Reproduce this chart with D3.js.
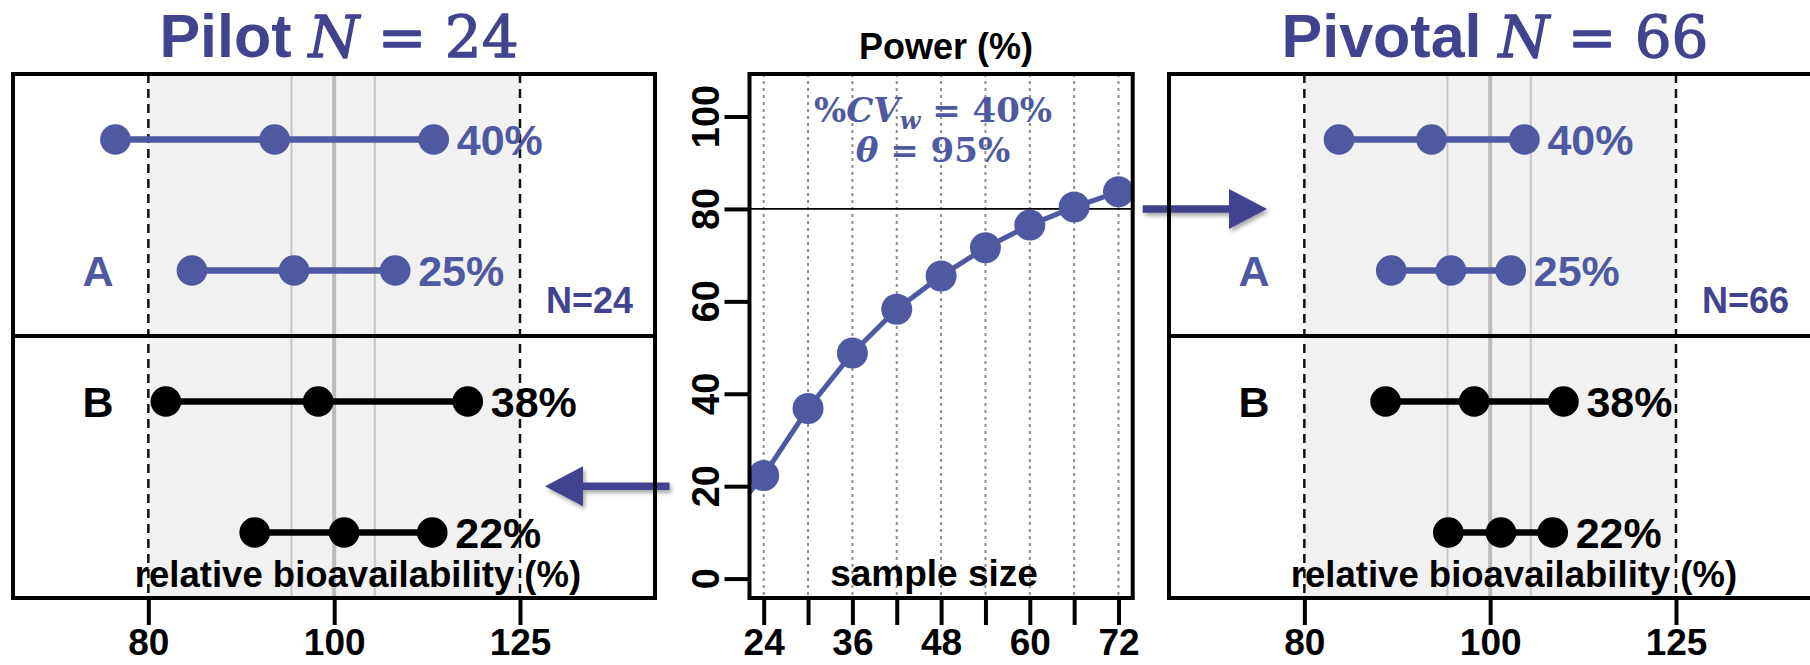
<!DOCTYPE html>
<html>
<head>
<meta charset="utf-8">
<script src="https://cdn.jsdelivr.net/npm/d3@7"></script>
<style>
  html, body { margin: 0; padding: 0; background: #fff; }
  svg { display: block; }
  text.piece { white-space: pre; }
</style>
</head>
<body>
<script>
// ---- data -------------------------------------------------------------
// rows of each forest panel, top to bottom
const formulation = ["A", "A", "B", "B"];
const cvLabels = ["40%", "25%", "38%", "22%"];

// pilot study (N = 24): lower CI, point estimate, upper CI of relative bioavailability (%)
const pilotLower = [76.9, 84.3, 81.7, 90.9];
const pilotPoint = [93.1, 95.3, 98.1, 101.2];
const pilotUpper = [112.7, 107.6, 117.4, 112.5];

// pivotal study (N = 66)
const pivotalLower = [83.4, 88.8, 88.2, 95.1];
const pivotalPoint = [93.2, 95.4, 98.1, 101.3];
const pivotalUpper = [104.2, 102.5, 109.2, 107.8];

// power (%) against total sample size, %CVw = 40%, theta = 95%
const sampleSize = [18, 24, 30, 36, 42, 48, 54, 60, 66, 72];
const power = [11, 22.3, 36.8, 48.8, 58.3, 65.5, 71.6, 76.5, 80.4, 83.7];

// axes and reference values
const baTicks = [80, 100, 125];
const acceptLimits = [80, 125];
const innerLimits = [95, 105];
const powerTicks = [0, 20, 40, 60, 80, 100];
const sizeTicks = [24, 30, 36, 42, 48, 54, 60, 66, 72];
const sizeTickLabels = [24, 36, 48, 60, 72];
const targetPower = 80;
const pilotPower = 20;

// ---- setup ------------------------------------------------------------
const W = 1810, H = 665;
const SANS = "'Liberation Sans', Arial, Helvetica, sans-serif";
const SERIF = "'DejaVu Serif', serif";
const BLUE = "#4f59a1";
const DARK_BLUE = "#42438e";

const svg = d3.select("body").append("svg")
  .attr("width", W).attr("height", H)
  .attr("viewBox", `0 0 ${W} ${H}`);

svg.append("rect").attr("width", W).attr("height", H).attr("fill", "#fff");

const defs = svg.append("defs");
const shadow = defs.append("filter").attr("id", "arrowShadow")
  .attr("x", "-20%").attr("y", "-50%").attr("width", "140%").attr("height", "200%");
shadow.append("feDropShadow")
  .attr("dx", 2).attr("dy", 3).attr("stdDeviation", 2)
  .attr("flood-color", "#000").attr("flood-opacity", 0.35);

const plotTop = 74, plotBottom = 598;
const tickLabelY = 57;   // baseline offset of bottom tick labels below the frame

// Lays out mixed-font pieces side by side, centred on cx.
function richText(parent, cx, y, fill, pieces) {
  const g = parent.append("g");
  const nodes = pieces.map(p => {
    const t = g.append("text").attr("class", "piece")
      .attr("y", y + (p.dy || 0))
      .attr("font-family", p.family).attr("font-size", p.size)
      .attr("font-weight", p.weight || "normal")
      .attr("font-style", p.style || "normal")
      .attr("fill", fill)
      .text(p.text);
    if (p.stroke) t.attr("stroke", fill).attr("stroke-width", p.stroke)
      .attr("stroke-linejoin", "round");
    return t;
  });
  const widths = nodes.map(n => n.node().getComputedTextLength());
  let x = cx - d3.sum(widths) / 2;
  nodes.forEach((n, i) => { n.attr("x", x); x += widths[i]; });
  return g;
}

// ---- power curve scales (middle) --------------------------------------
const xN = d3.scaleLinear().domain([22.08, 73.92]).range([749.5, 1132.7]);
const yP = d3.scaleLinear().domain([-4.2, 109.2]).range([plotBottom, plotTop]);

// ---- arrows (drawn beneath panel frames) ------------------------------
const leftBox = [13, 655];
const rightBox = [1169, 1813];

function arrow(xTail, xTip, y) {
  const dir = Math.sign(xTip - xTail);
  const xb = xTip - dir * 38, hw = 20, sw = 3.8;
  const p = d3.path();
  p.moveTo(xTail, y - sw);
  p.lineTo(xb, y - sw);
  p.lineTo(xb, y - hw);
  p.lineTo(xTip, y);
  p.lineTo(xb, y + hw);
  p.lineTo(xb, y + sw);
  p.lineTo(xTail, y + sw);
  p.closePath();
  svg.append("path").attr("d", p.toString())
    .attr("fill", DARK_BLUE)
    .attr("filter", "url(#arrowShadow)");
}
arrow(xN.range()[1] + 10, rightBox[0] + 98, yP(targetPower));
arrow(xN.range()[0] - 80, leftBox[1] - 110, yP(pilotPower));

// ---- forest panels ----------------------------------------------------
function forest(box, titleWord, N, lower, point, upper) {
  const [x0, x1] = box;
  const x = d3.scaleLog().domain([68, 147]).range([x0, x0 + 642]);
  const y = d3.scalePoint().domain(d3.range(formulation.length))
    .range([plotTop, plotBottom]).padding(0.5);
  const mid = (plotTop + plotBottom) / 2;
  const g = svg.append("g");

  // title
  richText(g, x0 + 326, 57, DARK_BLUE, [
    { text: titleWord + " ", family: SANS, size: 61, weight: "bold" },
    { text: "N", family: SERIF, size: 58, style: "italic", stroke: 1.3 },
    { text: " = " + N, family: SERIF, size: 58, stroke: 1.3 }
  ]);

  // acceptance region
  g.append("rect")
    .attr("x", x(acceptLimits[0])).attr("y", plotTop)
    .attr("width", x(acceptLimits[1]) - x(acceptLimits[0]))
    .attr("height", plotBottom - plotTop)
    .attr("fill", "#f1f1f1");

  g.selectAll(".inner").data(innerLimits).join("line")
    .attr("x1", d => x(d)).attr("x2", d => x(d))
    .attr("y1", plotTop).attr("y2", plotBottom)
    .attr("stroke", "#c6c6c6").attr("stroke-width", 2);
  g.append("line")
    .attr("x1", x(100)).attr("x2", x(100))
    .attr("y1", plotTop).attr("y2", plotBottom)
    .attr("stroke", "#bcbcbc").attr("stroke-width", 4);
  g.selectAll(".limit").data(acceptLimits).join("line")
    .attr("x1", d => x(d)).attr("x2", d => x(d))
    .attr("y1", plotTop).attr("y2", plotBottom)
    .attr("stroke", "#111").attr("stroke-width", 2.5)
    .attr("stroke-dasharray", "9,6");

  // confidence intervals
  const rows = d3.range(formulation.length);
  g.selectAll(".ci").data(rows).join("line")
    .attr("x1", i => x(lower[i])).attr("x2", i => x(upper[i]))
    .attr("y1", i => y(i)).attr("y2", i => y(i))
    .attr("stroke", i => formulation[i] === "A" ? BLUE : "#000")
    .attr("stroke-width", 6.5);
  rows.forEach(i => {
    const col = formulation[i] === "A" ? BLUE : "#000";
    g.selectAll(null).data([lower[i], point[i], upper[i]]).join("circle")
      .attr("cx", d => x(d)).attr("cy", y(i)).attr("r", 15.3)
      .attr("fill", col);
    g.append("text")
      .attr("x", x(upper[i]) + 23).attr("y", y(i)).attr("dy", "0.36em")
      .attr("font-family", SANS).attr("font-weight", "bold")
      .attr("font-size", 43).attr("fill", col)
      .text(cvLabels[i]);
  });

  // formulation labels next to the divider
  const groups = Array.from(new Set(formulation));
  groups.forEach((f, k) => {
    const idx = k === 0 ? formulation.lastIndexOf(f) : formulation.indexOf(f);
    g.append("text")
      .attr("x", x0 + 85).attr("y", y(idx)).attr("dy", "0.36em")
      .attr("text-anchor", "middle")
      .attr("font-family", SANS).attr("font-weight", "bold")
      .attr("font-size", 43).attr("fill", f === "A" ? BLUE : "#000")
      .text(f);
  });

  g.append("text")
    .attr("x", x0 + 620).attr("y", mid - 23)
    .attr("text-anchor", "end")
    .attr("font-family", SANS).attr("font-weight", "bold")
    .attr("font-size", 36).attr("fill", DARK_BLUE)
    .text("N=" + N);

  g.append("text")
    .attr("x", x0 + 345).attr("y", plotBottom - 11)
    .attr("text-anchor", "middle")
    .attr("font-family", SANS).attr("font-weight", "bold")
    .attr("font-size", 36.5).attr("fill", "#000")
    .text("relative bioavailability (%)");

  // frame and divider
  g.append("rect")
    .attr("x", x0).attr("y", plotTop)
    .attr("width", x1 - x0).attr("height", plotBottom - plotTop)
    .attr("fill", "none").attr("stroke", "#000").attr("stroke-width", 4);
  g.append("line")
    .attr("x1", x0).attr("x2", x1).attr("y1", mid).attr("y2", mid)
    .attr("stroke", "#000").attr("stroke-width", 4);

  // bottom axis
  const ax = g.append("g").attr("transform", `translate(0,${plotBottom})`)
    .call(d3.axisBottom(x).tickValues(baTicks).tickFormat(d3.format("d"))
      .tickSize(27));
  ax.select(".domain").remove();
  ax.selectAll(".tick line").attr("stroke", "#000").attr("stroke-width", 4);
  ax.selectAll(".tick text")
    .attr("font-family", SANS).attr("font-weight", "bold")
    .attr("font-size", 37).attr("fill", "#000")
    .attr("y", tickLabelY).attr("dy", 0);
}

forest(leftBox, "Pilot", 24, pilotLower, pilotPoint, pilotUpper);
forest(rightBox, "Pivotal", 66, pivotalLower, pivotalPoint, pivotalUpper);

// ---- power curve drawing ----------------------------------------------
const pg = svg.append("g");
defs.append("clipPath").attr("id", "powerClip")
  .append("rect")
  .attr("x", xN.range()[0]).attr("y", plotTop)
  .attr("width", xN.range()[1] - xN.range()[0])
  .attr("height", plotBottom - plotTop);

pg.selectAll(".grid").data(sizeTicks).join("line")
  .attr("x1", d => xN(d)).attr("x2", d => xN(d))
  .attr("y1", plotTop).attr("y2", plotBottom)
  .attr("stroke", "#8c8c8c").attr("stroke-width", 2)
  .attr("stroke-dasharray", "3,4");

pg.append("line")
  .attr("x1", xN.range()[0]).attr("x2", xN.range()[1])
  .attr("y1", yP(targetPower)).attr("y2", yP(targetPower))
  .attr("stroke", "#000").attr("stroke-width", 1.8);

const curve = pg.append("g").attr("clip-path", "url(#powerClip)");
curve.append("path")
  .datum(sampleSize.map((n, i) => [n, power[i]]))
  .attr("d", d3.line().x(d => xN(d[0])).y(d => yP(d[1])))
  .attr("fill", "none").attr("stroke", BLUE).attr("stroke-width", 5);
curve.selectAll("circle").data(sampleSize.map((n, i) => [n, power[i]])).join("circle")
  .attr("cx", d => xN(d[0])).attr("cy", d => yP(d[1])).attr("r", 15.5)
  .attr("fill", BLUE);

pg.append("rect")
  .attr("x", xN.range()[0]).attr("y", plotTop)
  .attr("width", xN.range()[1] - xN.range()[0])
  .attr("height", plotBottom - plotTop)
  .attr("fill", "none").attr("stroke", "#000").attr("stroke-width", 4);

// y axis: tick marks from the axis generator, labels rotated in their own groups
const ay = pg.append("g").attr("transform", `translate(${xN.range()[0]},0)`)
  .call(d3.axisLeft(yP).tickValues(powerTicks).tickSize(25).tickFormat(""));
ay.select(".domain").remove();
ay.selectAll(".tick line").attr("stroke", "#000").attr("stroke-width", 4);
ay.selectAll(".tick text").remove();
pg.selectAll(".ylab").data(powerTicks).join("g")
  .attr("transform", d => `translate(${xN.range()[0] - 31},${yP(d)}) rotate(-90)`)
  .append("text")
  .attr("text-anchor", "middle")
  .attr("font-family", SANS).attr("font-weight", "bold")
  .attr("font-size", 38).attr("fill", "#000")
  .text(d3.format("d"));

// x axis
const axN = pg.append("g").attr("transform", `translate(0,${plotBottom})`)
  .call(d3.axisBottom(xN).tickValues(sizeTicks).tickSize(27)
    .tickFormat(d => sizeTickLabels.includes(d) ? d : ""));
axN.select(".domain").remove();
axN.selectAll(".tick line").attr("stroke", "#000").attr("stroke-width", 4);
axN.selectAll(".tick text")
  .attr("font-family", SANS).attr("font-weight", "bold")
  .attr("font-size", 37).attr("fill", "#000")
  .attr("y", tickLabelY).attr("dy", 0);

pg.append("text")
  .attr("x", 946).attr("y", 59).attr("text-anchor", "middle")
  .attr("font-family", SANS).attr("font-weight", "bold").attr("font-size", 36)
  .text("Power (%)");

pg.append("text")
  .attr("x", 934).attr("y", plotBottom - 12).attr("text-anchor", "middle")
  .attr("font-family", SANS).attr("font-weight", "bold").attr("font-size", 37)
  .text("sample size");

// design assumptions
richText(pg, 933, 122, BLUE, [
  { text: "%", family: SERIF, size: 34, weight: "bold" },
  { text: "CV", family: SERIF, size: 34, weight: "bold", style: "italic" },
  { text: "w", family: SERIF, size: 24, weight: "bold", style: "italic", dy: 7 },
  { text: " = 40%", family: SERIF, size: 34, weight: "bold" }
]);
richText(pg, 933, 162, BLUE, [
  { text: "θ", family: SERIF, size: 34, weight: "bold", style: "italic" },
  { text: " = 95%", family: SERIF, size: 34, weight: "bold" }
]);
</script>
</body>
</html>
